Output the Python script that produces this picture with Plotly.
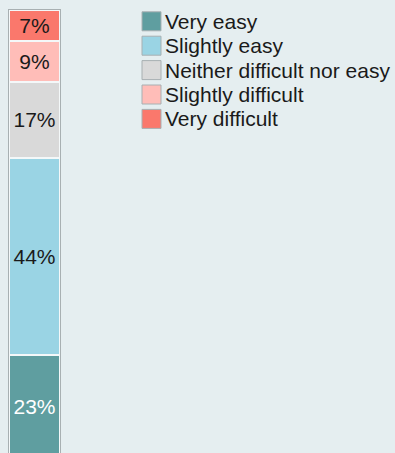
import plotly.graph_objects as go

# Survey responses, one stacked column (bottom to top)
categories = ["Very easy", "Slightly easy", "Neither difficult nor easy",
              "Slightly difficult", "Very difficult"]
shares = [23, 44, 17, 9, 7]
colors = ["#5F9EA0", "#9AD4E4", "#D9D9D9", "#FFBDB8", "#FA786C"]
label_colors = ["#FFFFFF", "#1A1A1A", "#1A1A1A", "#1A1A1A", "#1A1A1A"]
column = ["All"]

BG = "#E5EEF0"
BORDER = "#A8B0B2"
FONT = "Liberation Sans, Arial, sans-serif"

W, H = 395, 453
M_L, M_R, M_T, M_B = 9, 335, 10, 0
PLOT_W = W - M_L - M_R
PLOT_H = H - M_T - M_B


def px_x(px):
    return (px - M_L) / PLOT_W


def px_y(py):
    return (H - M_B - py) / PLOT_H


fig = go.Figure()

for name, val, col, tcol in zip(categories, shares, colors, label_colors):
    fig.add_trace(go.Bar(
        x=column, y=[val], name=name,
        marker=dict(color=col, line=dict(color="#F4F8F9", width=2)),
        text=[f"{val}%"], textposition="inside", insidetextanchor="middle",
        textfont=dict(color=tcol, size=21, family=FONT),
        constraintext="none", width=1,
        showlegend=False, hoverinfo="skip",
    ))

# Legend: square swatch plus label per category, top to bottom
LEG_X0, LEG_Y0, LEG_STEP, SW = 142, 21.3, 24.4, 19
shapes, annotations = [], []
for i, (name, col) in enumerate(zip(categories, colors)):
    cy = LEG_Y0 + i * LEG_STEP
    shapes.append(dict(
        type="rect", xref="paper", yref="paper",
        x0=px_x(LEG_X0), x1=px_x(LEG_X0 + SW),
        y0=px_y(cy + SW / 2), y1=px_y(cy - SW / 2),
        fillcolor=col, line=dict(color=BORDER, width=1), layer="above",
    ))
    annotations.append(dict(
        xref="paper", yref="paper", x=px_x(LEG_X0 + SW + 3), y=px_y(cy),
        xanchor="left", yanchor="middle", text=name, showarrow=False,
        font=dict(size=21, family=FONT, color="#1A1A1A"), borderpad=0,
    ))

fig.update_layout(
    barmode="stack",
    width=W, height=H,
    paper_bgcolor=BG, plot_bgcolor=BG,
    margin=dict(l=M_L, r=M_R, t=M_T, b=M_B),
    font=dict(family=FONT, color="#1A1A1A"),
    showlegend=False,
    shapes=shapes, annotations=annotations,
    xaxis=dict(type="category", range=[-0.5, 0.5], showticklabels=False,
               showgrid=False, zeroline=False, side="top", showline=True,
               linecolor=BORDER, linewidth=1, mirror=False, fixedrange=True),
    yaxis=dict(range=[1, 100], showticklabels=False, showgrid=False,
               zeroline=False, showline=True, linecolor=BORDER,
               linewidth=1, mirror=True, fixedrange=True),
)

fig.write_html("out.html")
